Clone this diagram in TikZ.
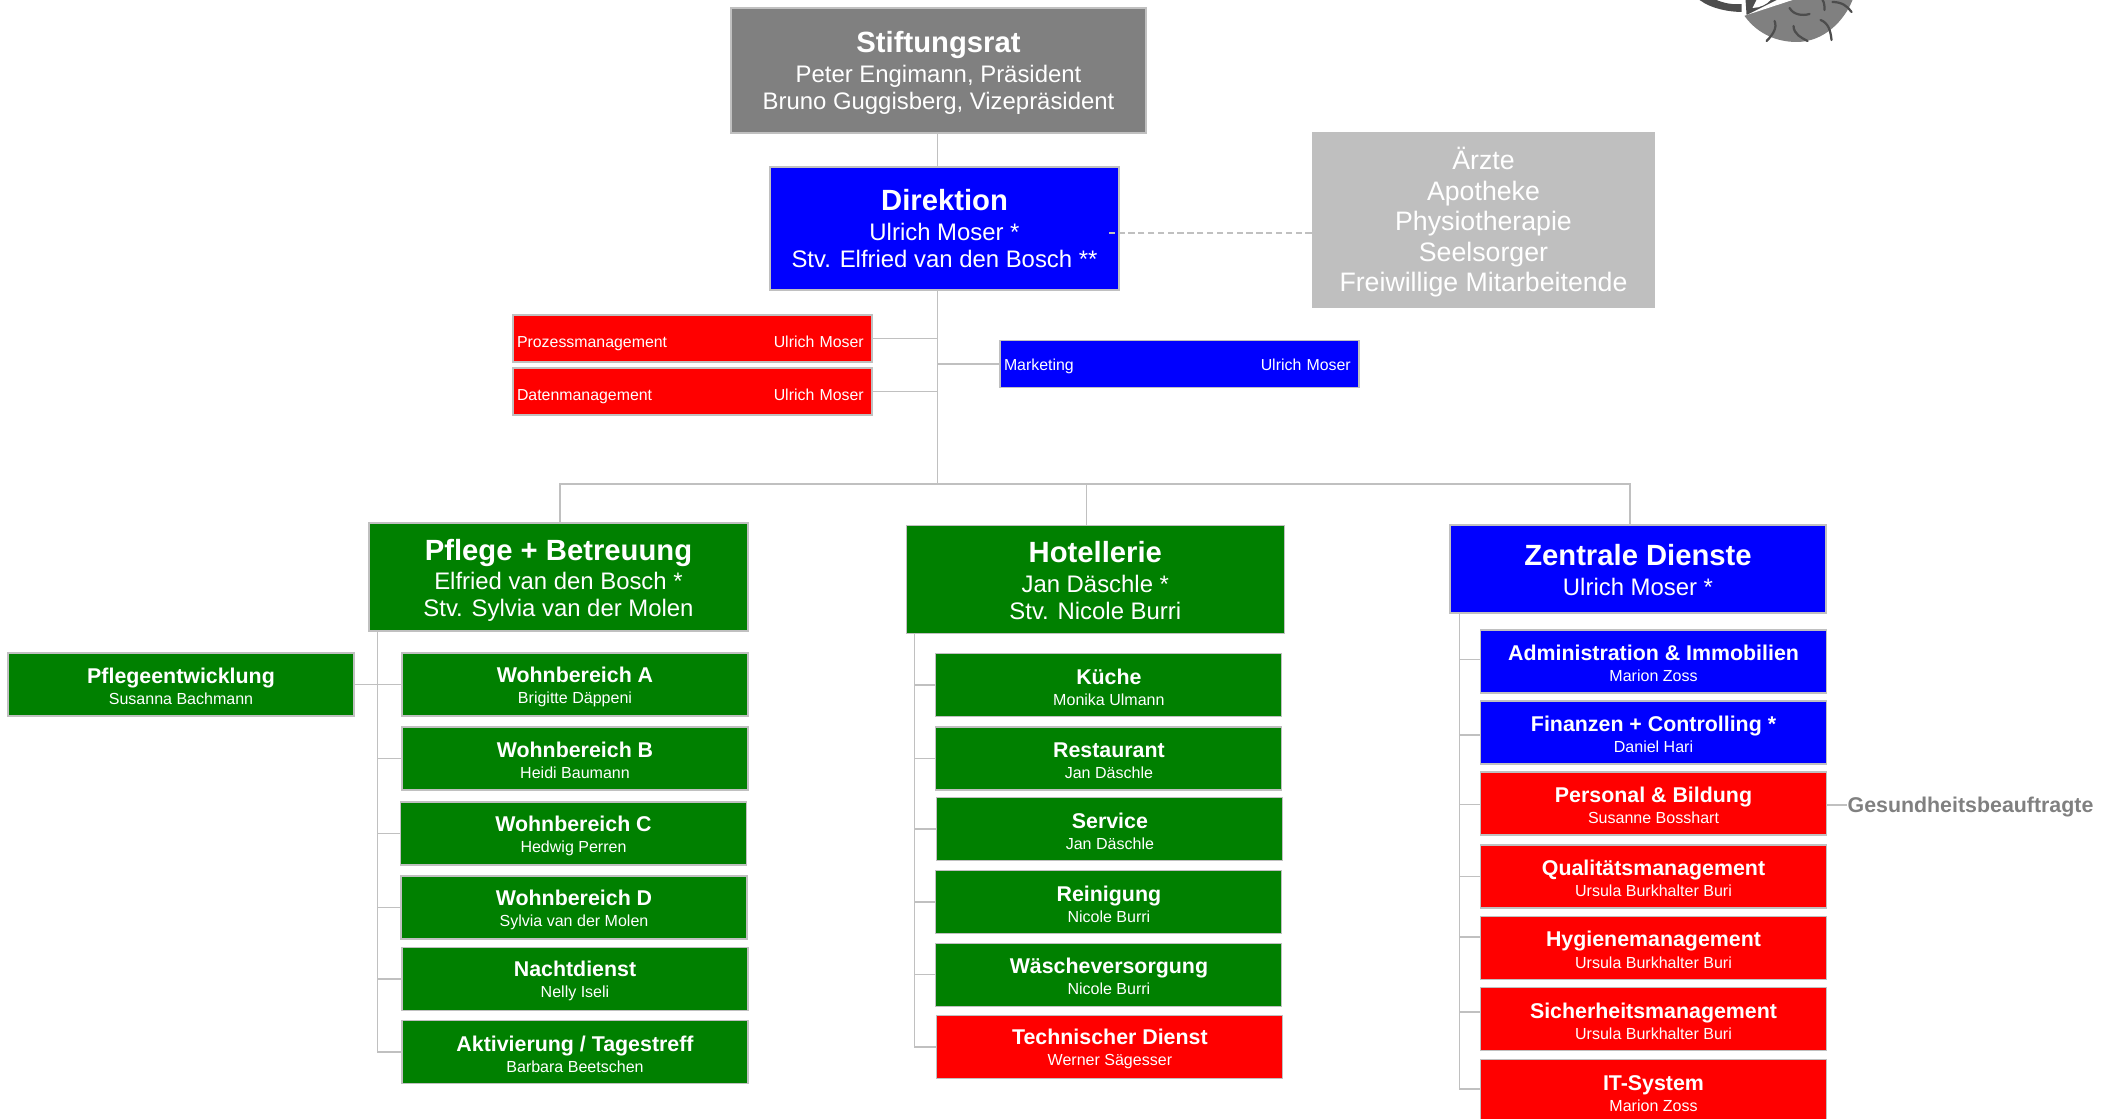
\documentclass[tikz,border=0pt]{standalone}
\usepackage{fontspec}
\setmainfont{Liberation Sans}
\usepackage{tikz}
\usetikzlibrary{positioning, calc}
\definecolor{council}{RGB}{128,128,128}
\definecolor{extern}{RGB}{191,191,191}
\definecolor{frame}{RGB}{192,192,192}
\definecolor{bluebox}{RGB}{0,0,255}
\definecolor{redbox}{RGB}{255,0,0}
\definecolor{greenbox}{RGB}{0,128,0}
\definecolor{logodark}{RGB}{77,77,77}
\newcommand{\headfont}{\fontsize{20.8}{22}\selectfont\bfseries}
\newcommand{\subfont}{\fontsize{15.2}{17}\selectfont\bfseries}
\newcommand{\subhead}[1]{\rule{0pt}{14pt}{\subfont #1}}
\tikzstyle{head} = [rectangle, minimum width=9.45cm, minimum height=2.7cm, align=center, draw=frame, line width=0.8pt, text=white, inner sep=0pt, font=\fontsize{17}{19.2}\selectfont]
\tikzstyle{sub} = [rectangle, minimum width=8.65cm, minimum height=1.575cm, align=center, draw=frame, line width=0.8pt, text=white, inner sep=0pt, font=\fontsize{11.4}{15}\selectfont]
\tikzstyle{staff} = [rectangle, minimum height=1.175cm, text width=8.775cm, inner xsep=0.1cm, inner ysep=0pt, draw=frame, line width=0.8pt, text=white, font=\fontsize{11.3}{13}\selectfont]
\tikzstyle{advisor} = [rectangle, minimum width=8.575cm, minimum height=4.4cm, align=center, fill=extern, text=white, inner sep=0pt, font=\fontsize{19}{21.6}\selectfont]
\tikzstyle{note} = [inner sep=0pt, text=council, font=\subfont]
\tikzstyle{conn} = [draw=frame, line width=1pt]
\tikzstyle{dashconn} = [draw=frame, line width=1pt, dash pattern=on 4.5pt off 2.5pt]

\begin{document}
\begin{tikzpicture}[node distance=1.85cm]
\useasboundingbox (0,0) rectangle (52.825,-27.975);

% Top
\node (stiftung) [head, fill=council, minimum width=10.375cm, minimum height=3.125cm] at (23.4625,-1.7625) {\rule{0pt}{19pt}{\headfont Stiftungsrat}\\[2pt]Peter Engimann, Präsident\\Bruno Guggisberg, Vizepräsident};
\node (direktion) [head, fill=bluebox, minimum width=8.725cm, minimum height=3.075cm, below of=stiftung, yshift=-2.1cm, xshift=0.15cm] {{\headfont Direktion}\\[2pt]Ulrich Moser *\\Stv. Elfried van den Bosch **};
\node (extern) [advisor, right of=direktion, xshift=11.625cm, yshift=0.21cm] {\rule{0pt}{19pt}Ärzte\\Apotheke\\Physiotherapie\\Seelsorger\\Freiwillige Mitarbeitende};

% Staff
\node (prozess) [staff, fill=redbox, below of=direktion, yshift=-0.9cm, xshift=-6.3cm] {\rule{0pt}{15pt}Prozessmanagement\hfill Ulrich Moser\hspace*{3pt}};
\node (daten) [staff, fill=redbox, below of=prozess, yshift=0.525cm] {\rule{0pt}{15pt}Datenmanagement\hfill Ulrich Moser\hspace*{3pt}};
\node (marketing) [staff, fill=bluebox, below of=direktion, yshift=-1.5375cm, xshift=5.875cm] {\rule{0pt}{11pt}Marketing\hfill Ulrich Moser\hspace*{3pt}};
\coordinate [below of=direktion, yshift=-4.5375cm, xshift=-0.175cm] (hub);

% Pflege
\node (pflege) [head, fill=greenbox, minimum width=9.475cm, below of=daten, yshift=-2.7875cm, xshift=-3.35cm] {\rule{0pt}{20pt}{\headfont Pflege + Betreuung}\\[2pt]Elfried van den Bosch *\\Stv. Sylvia van der Molen};
\node (wba) [sub, fill=greenbox, below of=pflege, yshift=-0.8375cm, xshift=0.4125cm] {\subhead{Wohnbereich A}\\Brigitte Däppeni};
\node (entwicklung) [sub, fill=greenbox, left of=wba, xshift=-8cm] {\subhead{Pflegeentwicklung}\\Susanna Bachmann};
\node (wbb) [sub, fill=greenbox, below of=wba] {\subhead{Wohnbereich B}\\Heidi Baumann};
\node (wbc) [sub, fill=greenbox, below of=wbb, yshift=-0.025cm, xshift=-0.0375cm] {\subhead{Wohnbereich C}\\Hedwig Perren};
\node (wbd) [sub, fill=greenbox, below of=wbc, xshift=0.0125cm] {\subhead{Wohnbereich D}\\Sylvia van der Molen};
\node (nacht) [sub, fill=greenbox, below of=wbd, yshift=0.0625cm, xshift=0.025cm] {\subhead{Nachtdienst}\\Nelly Iseli};
\node (aktiv) [sub, fill=greenbox, below of=nacht, yshift=0.025cm] {\subhead{Aktivierung / Tagestreff}\\Barbara Beetschen};

% Hotellerie
\node (hotel) [head, fill=greenbox, below of=direktion, yshift=-6.925cm, xshift=3.77cm] {\rule{0pt}{17pt}{\headfont Hotellerie}\\[2pt]Jan Däschle *\\Stv. Nicole Burri};
\node (kueche) [sub, fill=greenbox, below of=hotel, yshift=-0.7875cm, xshift=0.34cm] {\subhead{Küche}\\Monika Ulmann};
\node (restaurant) [sub, fill=greenbox, below of=kueche, yshift=0.0125cm] {\subhead{Restaurant}\\Jan Däschle};
\node (service) [sub, fill=greenbox, below of=restaurant, yshift=0.0875cm, xshift=0.025cm] {\subhead{Service}\\Jan Däschle};
\node (reinigung) [sub, fill=greenbox, below of=service, yshift=0.03cm, xshift=-0.025cm] {\subhead{Reinigung}\\Nicole Burri};
\node (waesche) [sub, fill=greenbox, below of=reinigung, yshift=0.03cm] {\subhead{Wäscheversorgung}\\Nicole Burri};
\node (technik) [sub, fill=redbox, below of=waesche, yshift=0.0375cm, xshift=0.025cm] {\subhead{Technischer Dienst}\\Werner Sägesser};

% Zentrale Dienste
\node (zentrale) [head, fill=bluebox, minimum width=9.4cm, minimum height=2.2cm, below of=direktion, yshift=-6.6625cm, xshift=17.3375cm] {\rule{0pt}{17pt}{\headfont Zentrale Dienste}\\[2pt]Ulrich Moser *};
\node (admin) [sub, fill=bluebox, below of=zentrale, yshift=-0.4625cm, xshift=0.3875cm] {\subhead{Administration \& Immobilien}\\Marion Zoss};
\node (finanzen) [sub, fill=bluebox, below of=admin, yshift=0.075cm] {\subhead{Finanzen + Controlling *}\\Daniel Hari};
\node (personal) [sub, fill=redbox, below of=finanzen, yshift=0.075cm] {\subhead{Personal \& Bildung}\\Susanne Bosshart};
\node (quali) [sub, fill=redbox, below of=personal, yshift=0.025cm] {\subhead{Qualitätsmanagement}\\Ursula Burkhalter Buri};
\node (hygiene) [sub, fill=redbox, below of=quali, yshift=0.07cm] {\subhead{Hygienemanagement}\\Ursula Burkhalter Buri};
\node (sicherheit) [sub, fill=redbox, below of=hygiene, yshift=0.07cm] {\subhead{Sicherheitsmanagement}\\Ursula Burkhalter Buri};
\node (itsystem) [sub, fill=redbox, below of=sicherheit, yshift=0.0375cm] {\subhead{IT-System}\\Marion Zoss};
\node (gesundheit) [note, right of=personal, xshift=6.075cm, yshift=-0.0875cm] {Gesundheitsbeauftragte};

% Lines
\draw [conn] (stiftung.south -| hub) -- (direktion.north -| hub);
\draw [conn] (direktion.south -| hub) -- (hub);
\draw [dashconn] ([yshift=-0.11cm]direktion.east -| extern.west) -- ([xshift=-0.275cm, yshift=-0.11cm]direktion.east);
\draw [conn] (prozess.east) -- (prozess.east -| hub);
\draw [conn] (daten.east) -- (daten.east -| hub);
\draw [conn] (hub |- marketing.west) -- (marketing.west);
\draw [conn] (hub) -| ([xshift=0.0375cm]pflege.north);
\draw [conn] (hub) -| ([xshift=-0.225cm]hotel.north);
\draw [conn] (hub) -| ([xshift=-0.2cm]zentrale.north);

\coordinate (pflegeline) at ([xshift=0.225cm]pflege.south west);
\coordinate (hotelline) at ([xshift=0.225cm]hotel.south west);
\coordinate (zentralline) at ([xshift=0.25cm]zentrale.south west);
\foreach \unit in {wba, wbb, wbc, wbd, nacht, aktiv}
  \draw [conn] (pflegeline) |- (\unit.west);
\draw [conn] (entwicklung.east) -- (entwicklung.east -| pflegeline);
\foreach \unit in {kueche, restaurant, service, reinigung, waesche, technik}
  \draw [conn] (hotelline) |- (\unit.west);
\foreach \unit/\lift in {admin/0.05, finanzen/-0.06, personal/-0.03, quali/0, hygiene/0.27, sicherheit/0.175, itsystem/0.06}
  \draw [conn] (zentralline) |- ([yshift=\lift cm]\unit.west);
\draw [conn] ([yshift=-0.04cm]personal.east) -- ([yshift=-0.04cm]personal.east -| gesundheit.west);

% Logo
\begin{scope}[x=0.025cm, y=-0.025cm]
\fill [council] (1743,0) -- (1743,13) .. controls (1755,32) and (1775,42) .. (1797,42) .. controls (1825,42) and (1845,20) .. (1853,0) -- cycle;
\fill [logodark] (1700,0) .. controls (1712,9) and (1730,12) .. (1743,12) -- (1743,4) .. controls (1733,5) and (1724,3) .. (1717,0) -- cycle;
\fill [white] (1744,16) -- (1793,0) -- (1742,0) -- (1742,12) -- cycle;
\fill [logodark] (1746,0) -- (1747,15) -- (1777,0) -- cycle;
\fill [white] (1753,8) .. controls (1760,8) and (1768,4) .. (1771,0) -- (1757,0) -- cycle;
\foreach \spike in {{(1775,21) .. controls (1778,28) and (1773,35) .. (1767,41)}, {(1794,26) .. controls (1794,34) and (1802,38) .. (1808,41)}, {(1821,20) .. controls (1829,23) and (1831,31) .. (1832,40)}, {(1790,8) .. controls (1794,15) and (1803,16) .. (1810,14)}, {(1823,0) .. controls (1825,3) and (1825,7) .. (1825,10)}, {(1833,2) .. controls (1842,2) and (1848,6) .. (1852,12)}}
  \draw [logodark, line width=1.6pt, line cap=round] \spike;
\end{scope}

\end{tikzpicture}
\end{document}
